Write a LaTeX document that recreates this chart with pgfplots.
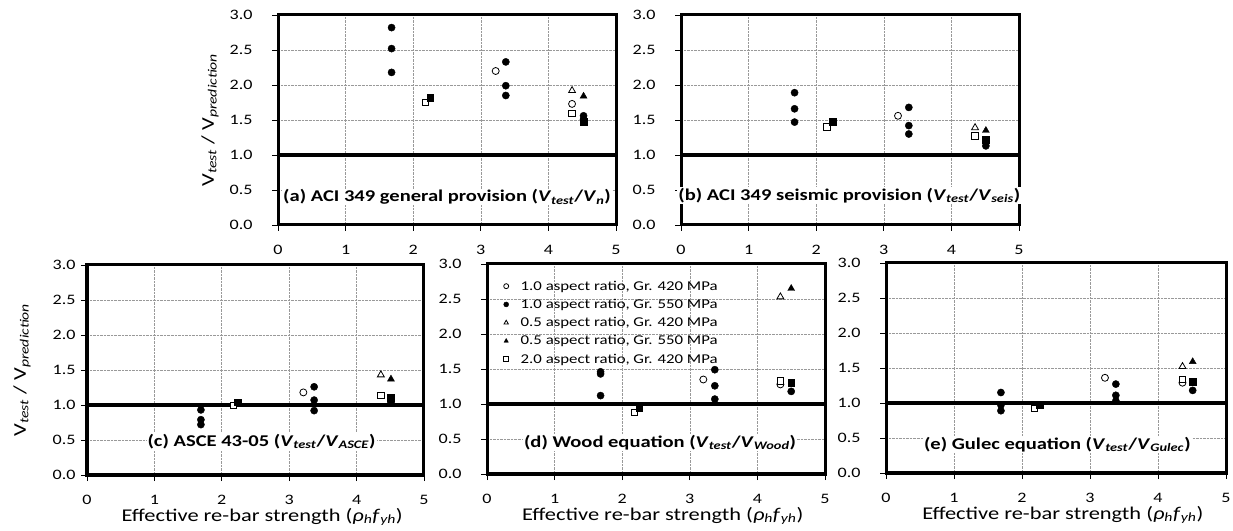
\documentclass[border=0pt]{standalone}
\usepackage{fontspec}
\setmainfont{Carlito}[FakeStretch=1.25]
\usepackage{pgfplots}
\pgfplotsset{compat=1.18}

\pgfplotsset{
  panel/.style={
    scale only axis, width=338bp, height=210bp,
    xmin=0, xmax=5, ymin=0, ymax=3,
    xtick={0,1,2,3,4,5}, xticklabels={0,1,2,3,4,5},
    ytick={0,0.5,1,1.5,2,2.5,3},
    yticklabels={0.0,0.5,1.0,1.5,2.0,2.5,3.0},
    tick pos=left, tick align=outside, major tick length=6bp,
    tick style={black, line width=0.8bp},
    axis line style={line width=3bp},
    grid=major,
    major grid style={densely dotted, gray!80, line width=0.6bp},
    ticklabel style={font=\fontsize{14.5}{16}\selectfont},
    xticklabel style={yshift=-11bp},
    yticklabel style={xshift=-16bp},
    every axis x label/.style={at={(axis description cs:0.52,-0.2)}, anchor=center,
      font=\fontsize{18}{20}\selectfont},
    clip=false,
  },
  ylab/.style={every axis y label/.style={at={(axis description cs:#1,0.5)}, anchor=center,
      rotate=90, font=\fontsize{18}{20}\selectfont}},
  oc/.style={black, only marks, mark=*, mark size=3.5bp, mark options={fill=white, draw=black, line width=0.8bp}},
  fc/.style={black, only marks, mark=*, mark size=3.6bp, mark options={fill=black, draw=black}},
  ot/.style={black, only marks, mark=triangle*, mark size=4bp, mark options={fill=white, draw=black, line width=0.8bp}},
  ft/.style={black, only marks, mark=triangle*, mark size=4bp, mark options={fill=black, draw=black}},
  os/.style={black, only marks, mark=square*, mark size=3.2bp, mark options={fill=white, draw=black, line width=0.8bp}},
  fs/.style={black, only marks, mark=square*, mark size=3.4bp, mark options={fill=black, draw=black}, forget plot},
  oneline/.style={black, line width=4bp, no markers, forget plot},
}
\tikzset{ptitle/.style={fill=white, inner sep=1bp, font=\fontsize{16.5}{18}\selectfont\bfseries}}
\newcommand\VV[1]{\textit{V}\textsubscript{\textit{#1}}}
\newcommand\ylab{V\textsubscript{\textit{test}} / V\textsubscript{\textit{prediction}}}
\newcommand\xlab{Effective re-bar strength  (\textit{ρ}\textsubscript{\textit{h}}\textit{f}\textsubscript{\textit{yh}})}
\newcommand\lf{\fontsize{13.5}{15}\selectfont}

\begin{document}
\begin{tikzpicture}
\useasboundingbox (0,0) rectangle (1233bp,531bp);

% (a) ACI 349 general
\begin{axis}[panel, at={(278bp,306bp)}, anchor=south west, ylab=-0.201, ylabel={\ylab}]
\addplot[oneline] coordinates {(0,1) (5,1)};
\addplot[oc] coordinates {(3.22,2.20) (4.35,1.73)};
\addplot[fc] coordinates {(1.68,2.82) (1.68,2.52) (1.68,2.18) (3.37,2.33) (3.37,1.99) (3.37,1.85) (4.52,1.56) (4.52,1.51)};
\addplot[ot] coordinates {(4.35,1.92)};
\addplot[ft] coordinates {(4.52,1.84)};
\addplot[os] coordinates {(2.18,1.75) (4.35,1.59)};
\addplot[fs] coordinates {(2.25,1.82) (4.52,1.47)};
\node[ptitle] at (axis cs:2.5,0.40) {(a) ACI 349 general provision (\VV{test}/\VV{n})};
\end{axis}

% (b) ACI 349 seismic
\begin{axis}[panel, at={(681bp,306bp)}, anchor=south west]
\addplot[oneline] coordinates {(0,1) (5,1)};
\addplot[oc] coordinates {(3.21,1.56)};
\addplot[fc] coordinates {(1.68,1.89) (1.68,1.66) (1.68,1.47) (3.37,1.68) (3.37,1.42) (3.37,1.30) (4.51,1.18) (4.51,1.13)};
\addplot[ot] coordinates {(4.35,1.39)};
\addplot[ft] coordinates {(4.51,1.35)};
\addplot[os] coordinates {(2.16,1.40) (4.35,1.27)};
\addplot[fs] coordinates {(2.24,1.47) (4.51,1.22)};
\node[ptitle] at (axis cs:2.49,0.42) {(b) ACI 349 seismic provision (\VV{test}/\VV{seis})};
\end{axis}

% (c) ASCE 43-05
\begin{axis}[panel, at={(87bp,56bp)}, anchor=south west, width=337bp,
  yticklabel style={xshift=14bp},
  ylab=-0.193, ylabel={\ylab}, xlabel={\xlab}]
\addplot[oneline] coordinates {(0,1) (5,1)};
\addplot[oc] coordinates {(3.21,1.18)};
\addplot[fc] coordinates {(1.69,0.93) (1.69,0.79) (1.69,0.72) (3.37,1.26) (3.37,1.07) (3.37,0.92) (4.51,1.04)};
\addplot[ot] coordinates {(4.36,1.43)};
\addplot[ft] coordinates {(4.51,1.37)};
\addplot[os] coordinates {(2.17,0.99) (4.36,1.14)};
\addplot[fs] coordinates {(2.24,1.04) (4.51,1.10)};
\node[ptitle] at (axis cs:2.59,0.48) {(c) ASCE 43-05 (\VV{test}/\VV{ASCE})};
\end{axis}

% (d) Wood
\begin{axis}[panel, at={(487bp,57bp)}, anchor=south west, xlabel={\xlab},
  legend style={at={(axis description cs:0.04,0.94)}, anchor=north west,
    draw=none, fill=none, font=\lf, nodes={font=\lf}, row sep=3.5bp,
    /tikz/every odd column/.append style={column sep=10bp}},
  legend cell align=left,
  legend image post style={mark size=2.5bp}]
\addplot[oneline] coordinates {(0,1) (5,1)};
\addplot[oc] coordinates {(3.20,1.35) (4.34,1.28)};
\addplot[fc] coordinates {(1.68,1.46) (1.68,1.43) (1.68,1.12) (3.37,1.49) (3.37,1.26) (3.37,1.07) (4.50,1.18)};
\addplot[ot] coordinates {(4.34,2.53)};
\addplot[ft] coordinates {(4.50,2.65)};
\addplot[os] coordinates {(2.18,0.88) (4.34,1.33)};
\addplot[fs] coordinates {(2.25,0.94) (4.50,1.30)};
\legend{{\lf 1.0 aspect ratio, Gr. 420 MPa}, {\lf 1.0 aspect ratio, Gr. 550 MPa},
  {\lf 0.5 aspect ratio, Gr. 420 MPa}, {\lf 0.5 aspect ratio, Gr. 550 MPa},
  {\lf 2.0 aspect ratio, Gr. 420 MPa}}
\node[ptitle] at (axis cs:2.56,0.45) {(d) Wood equation (\VV{test}/\VV{Wood})};
\end{axis}

% (e) Gulec
\begin{axis}[panel, at={(886bp,58bp)}, anchor=south west, width=340bp, xlabel={\xlab}]
\addplot[oneline] coordinates {(0,1) (5,1)};
\addplot[oc] coordinates {(3.22,1.36) (4.36,1.29)};
\addplot[fc] coordinates {(1.69,1.15) (1.69,0.97) (1.69,0.89) (3.38,1.27) (3.38,1.11) (3.38,1.03) (4.51,1.18)};
\addplot[ot] coordinates {(4.36,1.52)};
\addplot[ft] coordinates {(4.51,1.59)};
\addplot[os] coordinates {(2.18,0.92) (4.36,1.34)};
\addplot[fs] coordinates {(2.26,0.98) (4.51,1.31)};
\node[ptitle] at (axis cs:2.52,0.41) {(e) Gulec equation (\VV{test}/\VV{Gulec})};
\end{axis}
\end{tikzpicture}
\end{document}
